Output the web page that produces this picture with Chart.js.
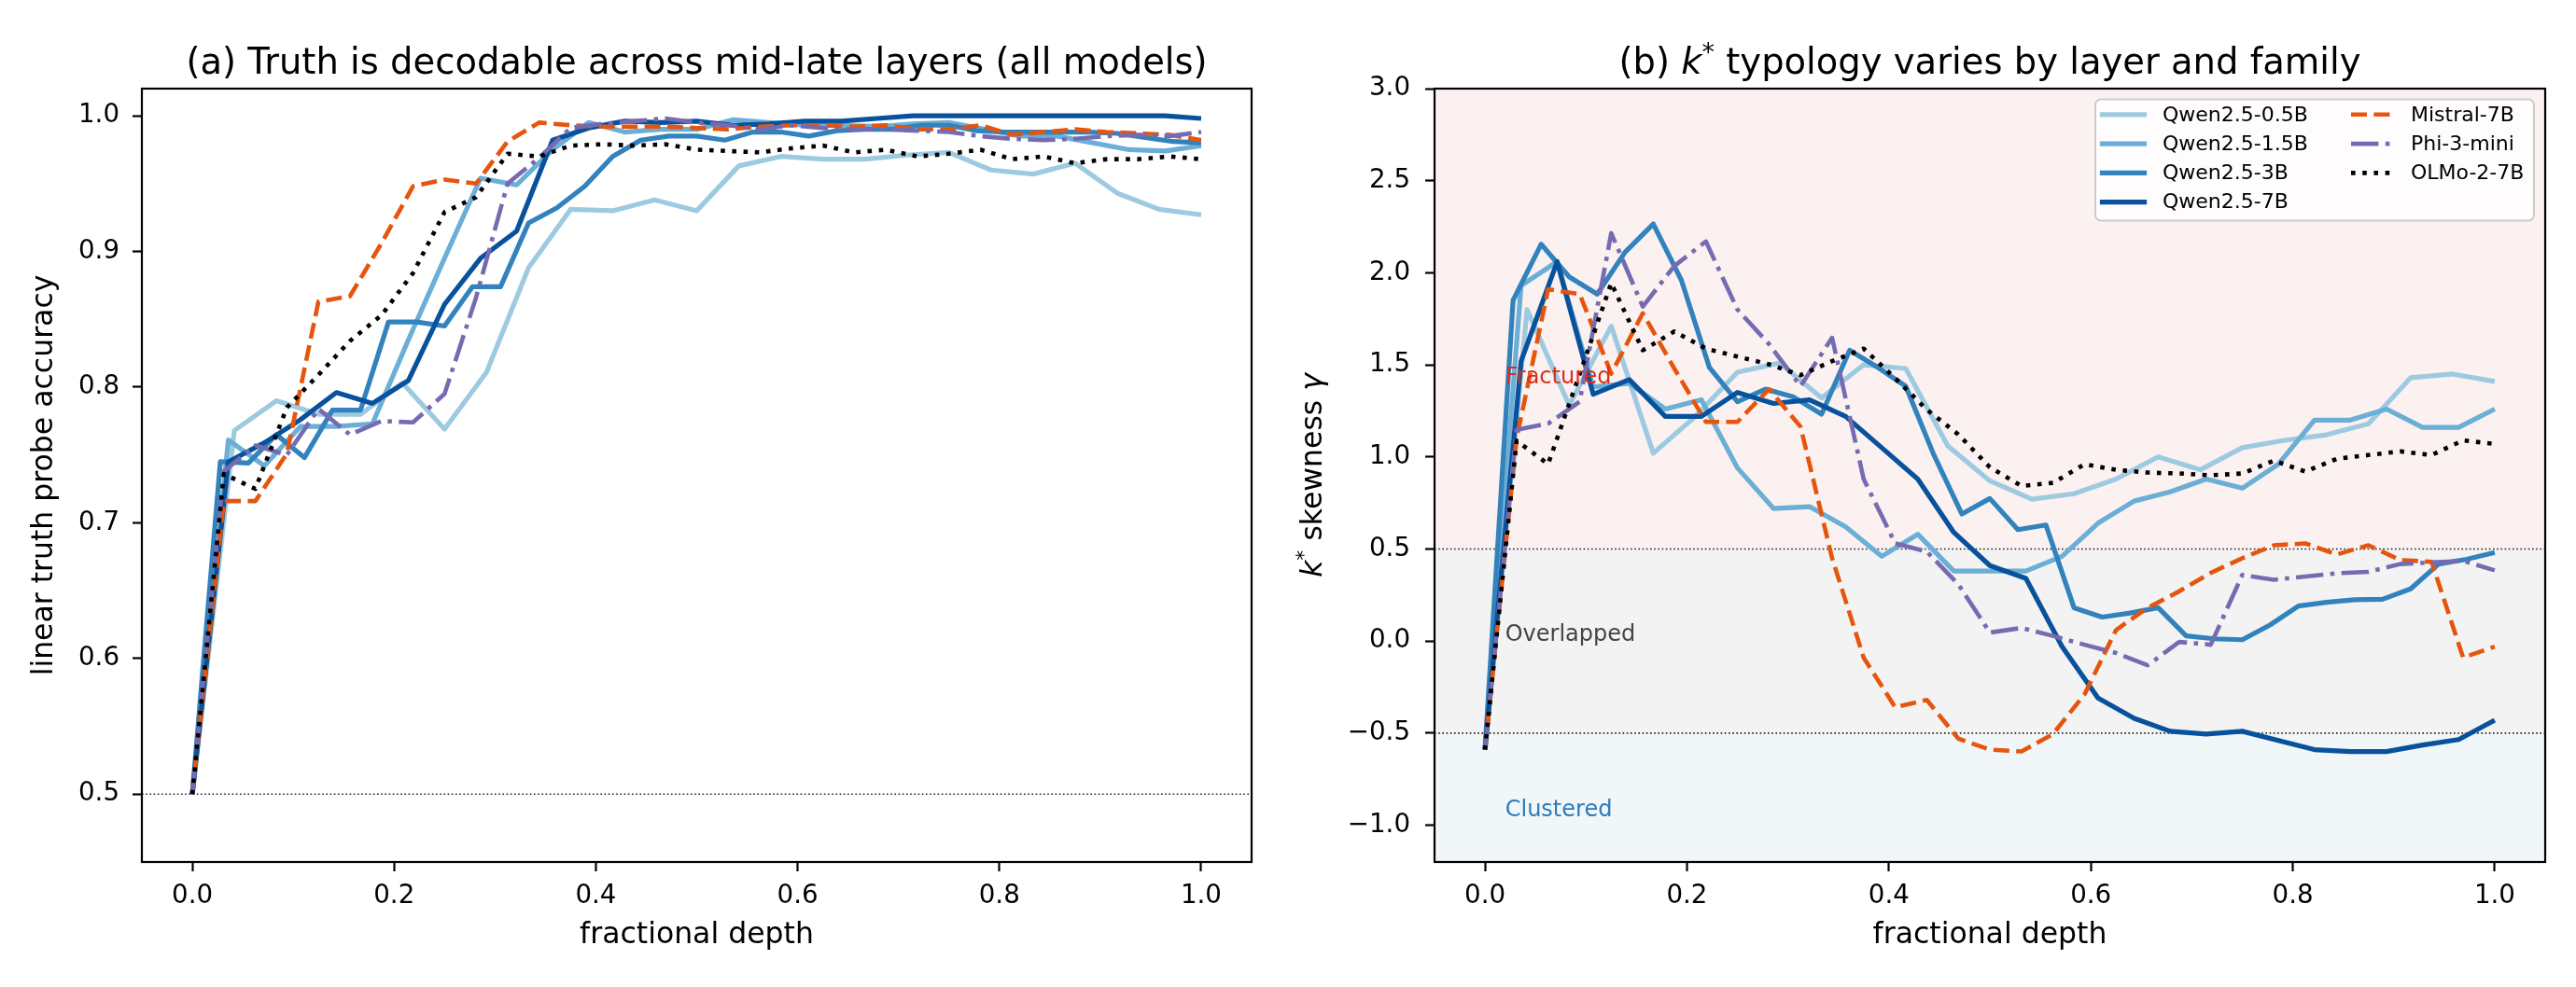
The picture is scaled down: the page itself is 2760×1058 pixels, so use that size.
<!DOCTYPE html>
<html>
<head>
<meta charset="utf-8">
<script src="https://cdn.jsdelivr.net/npm/chart.js@4.4.1/dist/chart.umd.min.js"></script>
<style>
  html, body { margin: 0; padding: 0; background: #fff; }
  body { width: 2760px; height: 1058px; position: relative; overflow: hidden; }
  canvas { position: absolute; top: 0; }
  #accChart { left: 0; }
  #skewChart { left: 1380px; }
</style>
</head>
<body>
<canvas id="accChart" width="1380" height="1058"></canvas>
<canvas id="skewChart" width="1380" height="1058"></canvas>
<script>
const MODEL_NAMES = ["Qwen2.5-0.5B", "Qwen2.5-1.5B", "Qwen2.5-3B", "Qwen2.5-7B", "Mistral-7B", "Phi-3-mini", "OLMo-2-7B"];
const X_TICKS = [0, 0.2, 0.4, 0.6, 0.8, 1.0];
const ACC_TICKS = [0.5, 0.6, 0.7, 0.8, 0.9, 1.0];
const SKEW_TICKS = [-1.0, -0.5, 0, 0.5, 1.0, 1.5, 2.0, 2.5, 3.0];

// (a) probe accuracy, one value per layer 0..L
const accQwen05 = [0.50, 0.768, 0.79, 0.78, 0.78, 0.803, 0.769, 0.811, 0.888, 0.931, 0.93, 0.938, 0.93, 0.963, 0.97, 0.968, 0.968, 0.971, 0.973, 0.96, 0.957, 0.965, 0.943, 0.931, 0.927];
const accQwen15 = [0.50, 0.761, 0.742, 0.771, 0.771, 0.773, 0.835, 0.895, 0.954, 0.949, 0.975, 0.995, 0.988, 0.99, 0.99, 0.997, 0.995, 0.993, 0.993, 0.992, 0.994, 0.995, 0.99, 0.985, 0.985, 0.98, 0.975, 0.974, 0.978];
const accQwen3 = [0.50, 0.745, 0.744, 0.765, 0.748, 0.783, 0.783, 0.848, 0.848, 0.845, 0.874, 0.874, 0.921, 0.932, 0.948, 0.97, 0.982, 0.985, 0.985, 0.982, 0.988, 0.988, 0.985, 0.989, 0.99, 0.99, 0.993, 0.993, 0.989, 0.988, 0.988, 0.988, 0.988, 0.987, 0.984, 0.981, 0.98];
const accQwen7 = [0.50, 0.745, 0.759, 0.776, 0.796, 0.788, 0.805, 0.861, 0.895, 0.915, 0.982, 0.991, 0.996, 0.995, 0.996, 0.993, 0.994, 0.996, 0.996, 0.998, 1.0, 1.0, 1.0, 1.0, 1.0, 1.0, 1.0, 1.0, 0.998];
const accMistral = [0.50, 0.716, 0.716, 0.751, 0.863, 0.867, 0.906, 0.948, 0.953, 0.95, 0.981, 0.995, 0.993, 0.992, 0.992, 0.992, 0.991, 0.99, 0.992, 0.993, 0.993, 0.992, 0.993, 0.99, 0.99, 0.993, 0.986, 0.988, 0.99, 0.988, 0.987, 0.986, 0.982];
const accPhi = [0.50, 0.738, 0.757, 0.75, 0.784, 0.765, 0.775, 0.774, 0.795, 0.866, 0.95, 0.969, 0.991, 0.994, 0.996, 0.998, 0.995, 0.993, 0.99, 0.993, 0.991, 0.99, 0.99, 0.989, 0.988, 0.985, 0.983, 0.982, 0.983, 0.985, 0.986, 0.985, 0.988];
const accOlmo = [0.50, 0.736, 0.725, 0.785, 0.809, 0.834, 0.853, 0.884, 0.929, 0.94, 0.972, 0.97, 0.978, 0.979, 0.978, 0.979, 0.975, 0.974, 0.973, 0.976, 0.978, 0.973, 0.975, 0.97, 0.972, 0.975, 0.968, 0.97, 0.965, 0.968, 0.968, 0.97, 0.968];

// (b) k* skewness, one value per layer 0..L
const skewQwen05 = [-0.59, 1.80, 1.28, 1.71, 1.02, 1.22, 1.46, 1.51, 1.32, 1.50, 1.48, 1.06, 0.87, 0.77, 0.80, 0.88, 1.00, 0.93, 1.05, 1.09, 1.12, 1.18, 1.43, 1.45, 1.41];
const skewQwen15 = [-0.59, 1.93, 2.06, 1.38, 1.40, 1.26, 1.31, 0.94, 0.72, 0.73, 0.62, 0.46, 0.58, 0.38, 0.38, 0.38, 0.46, 0.64, 0.76, 0.81, 0.88, 0.83, 0.96, 1.20, 1.20, 1.26, 1.16, 1.16, 1.26];
const skewQwen3 = [-0.59, 1.85, 2.155, 1.978, 1.884, 2.113, 2.265, 1.96, 1.486, 1.30, 1.368, 1.325, 1.232, 1.579, 1.486, 1.384, 1.012, 0.69, 0.774, 0.605, 0.63, 0.181, 0.13, 0.152, 0.181, 0.028, 0.012, 0.007, 0.088, 0.19, 0.21, 0.224, 0.227, 0.283, 0.418, 0.444, 0.481];
const skewQwen7 = [-0.59, 1.52, 2.06, 1.34, 1.42, 1.22, 1.22, 1.35, 1.29, 1.31, 1.22, 1.05, 0.88, 0.59, 0.41, 0.34, -0.03, -0.31, -0.42, -0.49, -0.505, -0.49, -0.54, -0.59, -0.60, -0.60, -0.565, -0.535, -0.43];
const skewMistral = [-0.59, 1.1, 1.91, 1.884, 1.452, 1.78, 1.48, 1.19, 1.19, 1.368, 1.164, 0.45, -0.09, -0.36, -0.32, -0.53, -0.59, -0.60, -0.505, -0.29, 0.06, 0.18, 0.27, 0.37, 0.45, 0.52, 0.53, 0.47, 0.52, 0.44, 0.43, -0.09, -0.03];
const skewPhi = [-0.59, 1.147, 1.181, 1.30, 2.215, 1.816, 2.037, 2.17, 1.80, 1.613, 1.384, 1.647, 0.88, 0.53, 0.486, 0.308, 0.046, 0.071, 0.028, -0.02, -0.065, -0.132, -0.005, -0.02, 0.359, 0.333, 0.35, 0.368, 0.376, 0.418, 0.427, 0.435, 0.384];
const skewOlmo = [-0.59, 1.088, 0.961, 1.45, 1.944, 1.579, 1.681, 1.588, 1.545, 1.503, 1.444, 1.52, 1.588, 1.427, 1.257, 1.122, 0.944, 0.842, 0.859, 0.96, 0.93, 0.915, 0.91, 0.90, 0.91, 0.98, 0.92, 0.99, 1.01, 1.03, 1.01, 1.09, 1.07];

// typology regions on panel (b)
const REGION_NAMES = ["Fractured", "Overlapped", "Clustered"];
const REGION_LABEL_Y = [1.4, 0.0, -0.95];
const REGION_EDGES = [0.5, -0.5];

const FONT = "'DejaVu Sans', 'Liberation Sans', sans-serif";
Chart.defaults.font.family = FONT;
Chart.defaults.color = "#000";

const lineStyles = [
  { color: "#9ecae1", width: 5.2, dash: [] },
  { color: "#6baed6", width: 5.2, dash: [] },
  { color: "#3182bd", width: 5.2, dash: [] },
  { color: "#08519c", width: 5.2, dash: [] },
  { color: "#e6550d", width: 4.6, dash: [17, 7.4] },
  { color: "#756bb1", width: 4.6, dash: [29.4, 7.4, 4.6, 7.4] },
  { color: "#000000", width: 4.6, dash: [4.6, 7.6] },
];

function toPoints(values) {
  // fractional depth = layer index / number of layers
  const n = values.length - 1;
  return values.map((v, i) => ({ x: i / n, y: v }));
}

function makeDatasets(seriesList) {
  return seriesList.map((values, i) => ({
    label: MODEL_NAMES[i],
    data: toPoints(values),
    borderColor: lineStyles[i].color,
    borderWidth: lineStyles[i].width,
    borderDash: lineStyles[i].dash,
    borderJoinStyle: "round",
    borderCapStyle: "butt",
    pointRadius: 0,
    pointHoverRadius: 0,
    fill: false,
    tension: 0,
    order: seriesList.length - i,
  }));
}

function fmtTick(v) {
  return Number(v).toFixed(1).replace("-", "\u2212");
}

function drawRich(ctx, segs, x, y, rotation) {
  ctx.save();
  ctx.translate(x, y);
  ctx.rotate(rotation || 0);
  ctx.textAlign = "left";
  ctx.textBaseline = "alphabetic";
  let total = 0;
  segs.forEach((s) => {
    ctx.font = s.font;
    s.w = ctx.measureText(s.text).width;
    total += s.w;
  });
  let cx = -total / 2;
  segs.forEach((s) => {
    ctx.font = s.font;
    ctx.fillText(s.text, cx, s.dy || 0);
    cx += s.w;
  });
  ctx.restore();
}

function drawLegend(chart) {
  const { ctx, chartArea: a } = chart;
  const boxW = 470, boxH = 130;
  const bx = a.right - 12 - boxW, by = a.top + 11.5;
  ctx.save();
  ctx.beginPath();
  ctx.roundRect(bx, by, boxW, boxH, 6);
  ctx.fillStyle = "rgba(255,255,255,0.8)";
  ctx.fill();
  ctx.lineWidth = 2;
  ctx.strokeStyle = "#cccccc";
  ctx.stroke();
  const cols = [
    { hx: bx + 7.5, tx: bx + 72, items: [0, 1, 2, 3] },
    { hx: bx + 274, tx: bx + 338, items: [4, 5, 6] },
  ];
  ctx.font = `22px ${FONT}`;
  ctx.textAlign = "left";
  ctx.textBaseline = "middle";
  cols.forEach((col) => {
    col.items.forEach((idx, r) => {
      const cy = by + 16.3 + r * 31.3;
      const st = lineStyles[idx];
      ctx.beginPath();
      ctx.setLineDash(st.dash);
      ctx.lineWidth = st.width;
      ctx.strokeStyle = st.color;
      ctx.lineCap = st.dash.length ? "butt" : "square";
      ctx.moveTo(col.hx, cy);
      ctx.lineTo(col.hx + 45, cy);
      ctx.stroke();
      ctx.setLineDash([]);
      ctx.fillStyle = "#000";
      ctx.fillText(MODEL_NAMES[idx], col.tx, cy + 1);
    });
  });
  ctx.restore();
}

const decorPlugin = {
  id: "decor",
  beforeDatasetsDraw(chart, args, opts) {
    const { ctx, chartArea: a, scales: { y } } = chart;
    ctx.save();
    (opts.bands || []).forEach((b) => {
      const top = Math.max(y.getPixelForValue(b.to), a.top);
      const bot = Math.min(y.getPixelForValue(b.from), a.bottom);
      ctx.fillStyle = b.color;
      ctx.fillRect(a.left, top, a.right - a.left, bot - top);
    });
    ctx.lineWidth = 1.6;
    ctx.setLineDash([1.6, 2.6]);
    ctx.strokeStyle = "#222";
    (opts.hlines || []).forEach((v) => {
      const py = y.getPixelForValue(v);
      ctx.beginPath();
      ctx.moveTo(a.left, py);
      ctx.lineTo(a.right, py);
      ctx.stroke();
    });
    ctx.restore();
  },
  afterDatasetsDraw(chart, args, opts) {
    const { ctx, chartArea: a, scales: { x, y } } = chart;
    ctx.save();
    ctx.textAlign = "left";
    ctx.textBaseline = "alphabetic";
    ctx.font = `24px ${FONT}`;
    (opts.regions || []).forEach((r) => {
      ctx.fillStyle = r.color;
      ctx.fillText(r.text, x.getPixelForValue(0.02), y.getPixelForValue(r.y));
    });
    ctx.lineWidth = 2.2;
    ctx.strokeStyle = "#000";
    ctx.strokeRect(a.left, a.top, a.right - a.left, a.bottom - a.top);
    ctx.restore();
  },
  afterDraw(chart, args, opts) {
    const { ctx, chartArea: a } = chart;
    ctx.fillStyle = "#000";
    if (opts.title) {
      drawRich(ctx, opts.title, (a.left + a.right) / 2, a.top - 16.5, 0);
    }
    if (opts.yTitle) {
      drawRich(ctx, opts.yTitle, opts.yTitleX, (a.top + a.bottom) / 2, -Math.PI / 2);
    }
    if (opts.legend) drawLegend(chart);
  },
};

function xScale() {
  return {
    type: "linear",
    min: -0.05,
    max: 1.05,
    afterBuildTicks: (s) => { s.ticks = X_TICKS.map((v) => ({ value: v })); },
    afterFit: (s) => { s.height = 134; },
    grid: { display: true, drawOnChartArea: false, drawTicks: true, tickLength: 10, tickWidth: 2.2, tickColor: "#000" },
    border: { display: false },
    ticks: { font: { size: 27.7 }, color: "#000", padding: 10, maxRotation: 0, autoSkip: false, callback: (v) => fmtTick(v) },
    title: { display: true, text: "fractional depth", font: { size: 31.5 }, color: "#000", padding: { top: 0, bottom: 36 } },
  };
}

function yScale(min, max, ticks, width, titleCfg, pad) {
  return {
    type: "linear",
    min: min,
    max: max,
    afterBuildTicks: (s) => { s.ticks = ticks.map((v) => ({ value: v })); },
    afterFit: (s) => { s.width = width; },
    grid: { display: true, drawOnChartArea: false, drawTicks: true, tickLength: 10, tickWidth: 2.2, tickColor: "#000" },
    border: { display: false },
    ticks: { font: { size: 27.7 }, color: "#000", padding: pad, autoSkip: false, callback: (v) => fmtTick(v) },
    title: titleCfg,
  };
}

const sans = (size) => `${size}px ${FONT}`;
const ital = (size) => `italic ${size}px ${FONT}`;

new Chart(document.getElementById("accChart"), {
  type: "line",
  data: { datasets: makeDatasets([accQwen05, accQwen15, accQwen3, accQwen7, accMistral, accPhi, accOlmo]) },
  options: {
    responsive: false,
    animation: false,
    devicePixelRatio: 1,
    layout: { padding: { top: 95, right: 39, left: 0, bottom: 0 } },
    scales: {
      x: xScale(),
      y: yScale(0.45, 1.02, ACC_TICKS, 152,
        { display: true, text: "linear truth probe accuracy", font: { size: 31.5 }, color: "#000", padding: { top: 29, bottom: 0 } }, 14),
    },
    plugins: {
      legend: { display: false },
      tooltip: { enabled: false },
      decor: {
        hlines: [0.5],
        title: [{ text: "(a) Truth is decodable across mid-late layers (all models)", font: sans(38.5) }],
      },
    },
  },
  plugins: [decorPlugin],
});

new Chart(document.getElementById("skewChart"), {
  type: "line",
  data: { datasets: makeDatasets([skewQwen05, skewQwen15, skewQwen3, skewQwen7, skewMistral, skewPhi, skewOlmo]) },
  options: {
    responsive: false,
    animation: false,
    devicePixelRatio: 1,
    layout: { padding: { top: 95, right: 33, left: 0, bottom: 0 } },
    scales: {
      x: xScale(),
      y: yScale(-1.2, 3.0, SKEW_TICKS, 157, { display: false }, 16),
    },
    plugins: {
      legend: { display: false },
      tooltip: { enabled: false },
      decor: {
        bands: [
          { from: REGION_EDGES[0], to: 10, color: "#fbf1f0" },
          { from: REGION_EDGES[1], to: REGION_EDGES[0], color: "#f3f3f3" },
          { from: -10, to: REGION_EDGES[1], color: "#f1f6f9" },
        ],
        hlines: REGION_EDGES,
        regions: [
          { text: REGION_NAMES[0], y: REGION_LABEL_Y[0], color: "#d7301f" },
          { text: REGION_NAMES[1], y: REGION_LABEL_Y[1], color: "#444444" },
          { text: REGION_NAMES[2], y: REGION_LABEL_Y[2], color: "#2b7bba" },
        ],
        title: [
          { text: "(b) ", font: sans(38.5) },
          { text: "k", font: ital(38.5) },
          { text: "*", font: sans(27), dy: -14 },
          { text: " typology varies by layer and family", font: sans(38.5) },
        ],
        yTitle: [
          { text: "k", font: ital(31.5), dy: 11 },
          { text: "*", font: sans(22), dy: -1 },
          { text: " skewness ", font: sans(31.5), dy: 11 },
          { text: "\u03b3", font: ital(31.5), dy: 11 },
        ],
        yTitleX: 25,
        legend: true,
      },
    },
  },
  plugins: [decorPlugin],
});
</script>
</body>
</html>
